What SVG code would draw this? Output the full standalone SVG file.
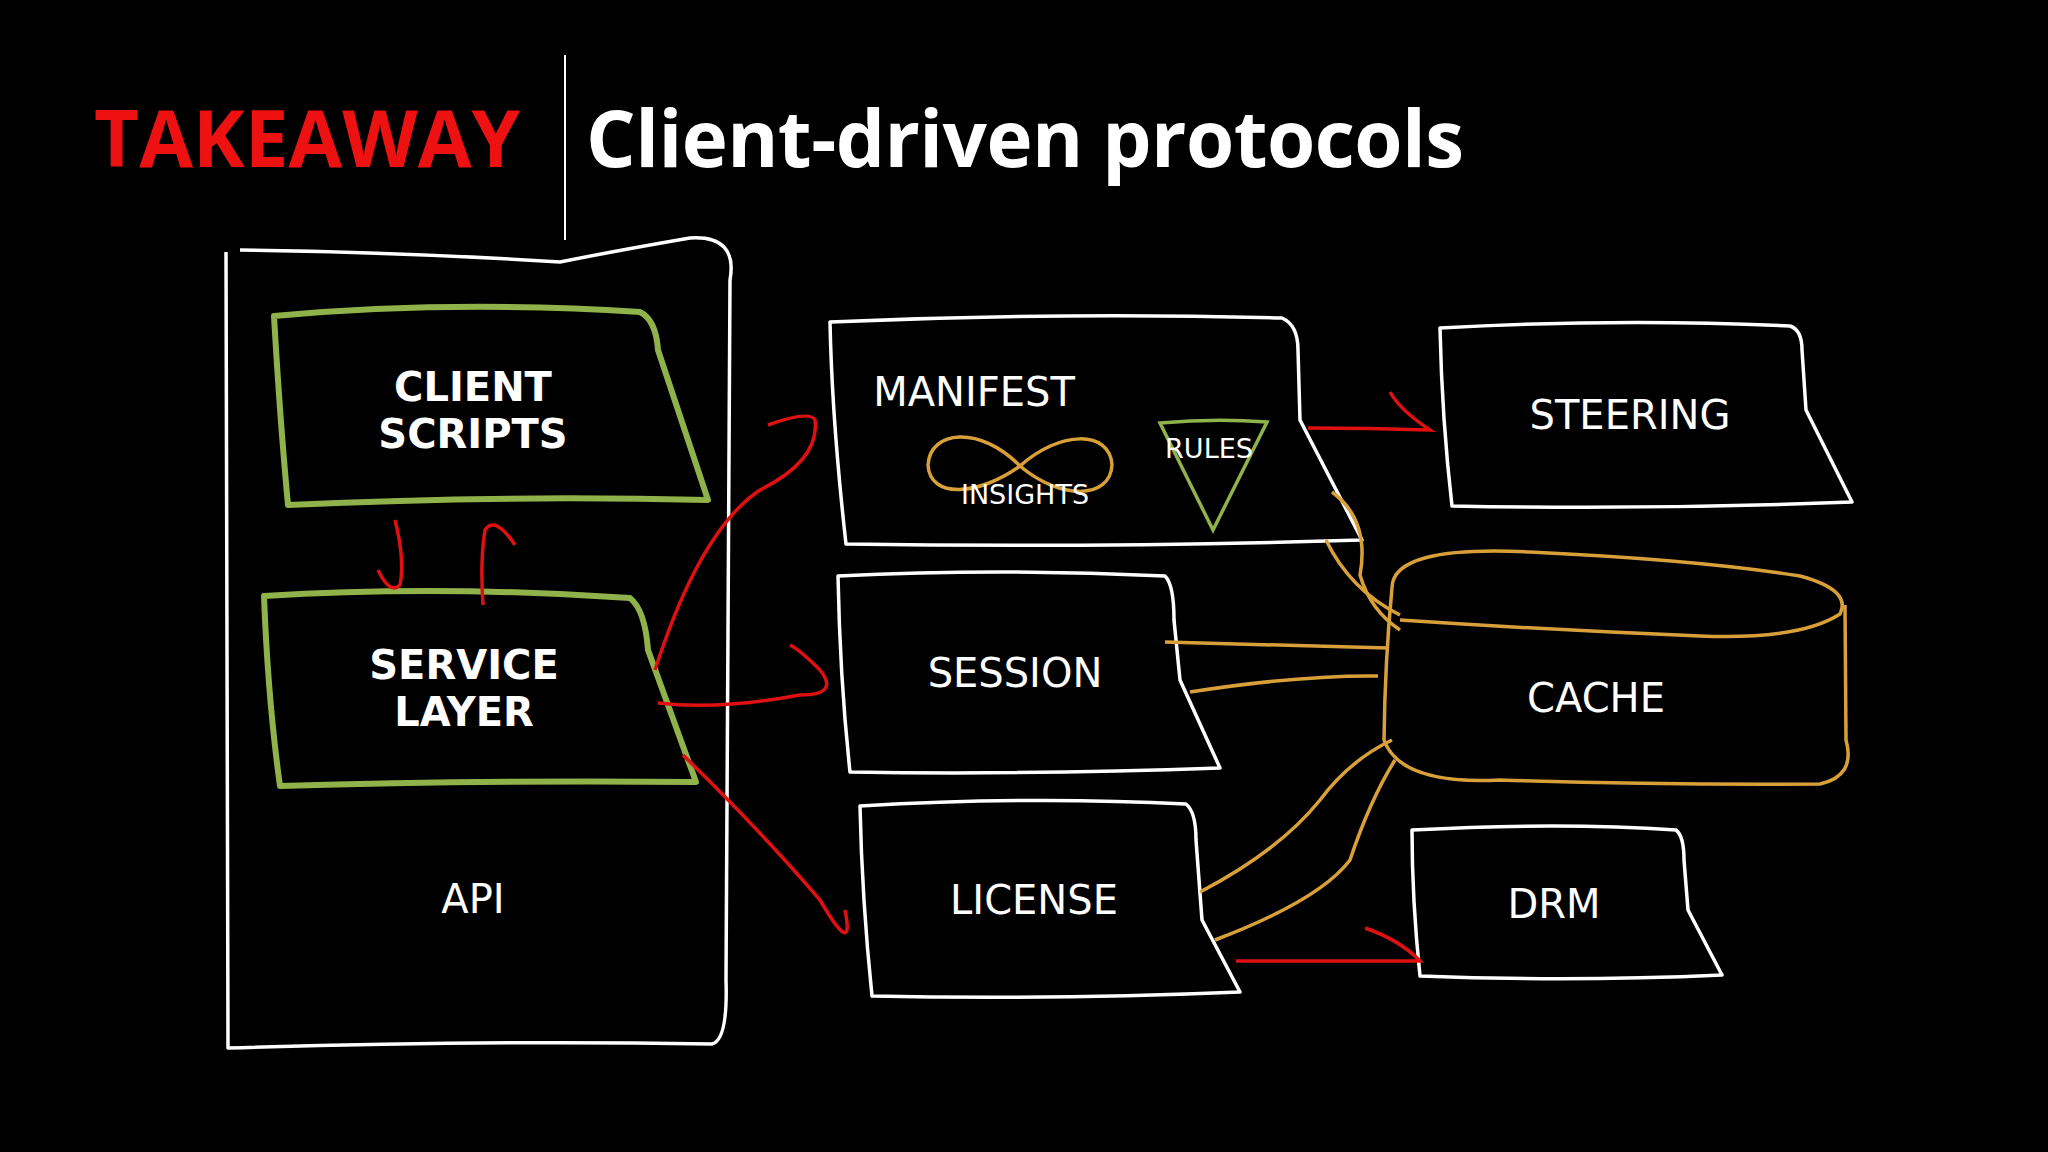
<svg xmlns="http://www.w3.org/2000/svg" width="2048" height="1152" viewBox="0 0 2048 1152">
<style>
.w{fill:none;stroke:#fff;stroke-width:3.5;stroke-linejoin:round}
.g{fill:none;stroke:#8fb24a;stroke-width:6;stroke-linejoin:round}
.o{fill:none;stroke:#d9a03a;stroke-width:3.5}
.r{fill:none;stroke:#e01010;stroke-width:3.5}
.t{fill:#fff;font-family:"DejaVu Sans",sans-serif;font-size:40px;text-anchor:middle}
.s{fill:#fff;font-family:"DejaVu Sans",sans-serif;font-size:27px;text-anchor:middle}
.tb{fill:#fff;font-family:"DejaVu Sans",sans-serif;font-size:40px;font-weight:bold;text-anchor:middle}
</style>
<rect width="2048" height="1152" fill="#000"/>
<text x="94" y="167" fill="#ee1111" font-family="'Open Sans',sans-serif" font-weight="bold" font-size="78">TAKEAWAY</text>
<line x1="565" y1="55" x2="565" y2="240" stroke="#fff" stroke-width="2"/>
<text x="586" y="167" fill="#fff" font-family="'Open Sans',sans-serif" font-weight="bold" font-size="78" textLength="878">Client-driven protocols</text>
<g id="api"><path class="w" d="M226 252 L228 1048 Q480 1040 712 1044 Q728 1040 726 980 L730 280 Q738 235 690 238 Q620 250 560 262 Q400 252 240 250"/><text class="t" x="473" y="913">API</text></g>
<g id="client"><path class="g" d="M274 316 Q450 300 640 312 Q656 320 658 350 L708 500 Q500 495 288 505 Q280 420 274 316Z"/><text class="tb" x="473" y="401">CLIENT</text><text class="tb" x="473" y="448">SCRIPTS</text></g>
<g id="service"><path class="g" d="M264 596 Q440 585 630 598 Q645 610 648 650 L696 782 Q480 780 280 786 Q268 700 264 596Z"/><text class="tb" x="464" y="679">SERVICE</text><text class="tb" x="464" y="726">LAYER</text></g>
<g id="manifest"><path class="w" d="M830 322 Q1060 312 1282 318 Q1298 325 1298 350 L1300 420 L1362 540 Q1100 548 846 544 Q832 420 830 322Z"/><text class="t" x="974" y="406">MANIFEST</text>
<path class="o" d="M1020 466 C980 425 930 430 928 465 C930 500 980 495 1020 466 C1060 430 1110 430 1112 465 C1110 500 1060 500 1020 466Z"/><text class="s" x="1025" y="504">INSIGHTS</text>
<path fill="none" stroke="#8fb24a" stroke-width="3.5" d="M1160 423 Q1215 418 1267 422 L1213 530 Z"/><text class="s" x="1209" y="458">RULES</text></g>
<g id="steering"><path class="w" d="M1440 328 Q1620 318 1790 326 Q1802 330 1802 350 L1806 410 L1852 502 Q1650 510 1452 506 Q1442 420 1440 328Z"/><text class="t" x="1630" y="429">STEERING</text></g>
<g id="session"><path class="w" d="M838 576 Q1000 568 1165 576 Q1174 585 1174 620 L1180 680 L1220 768 Q1020 775 850 772 Q840 680 838 576Z"/><text class="t" x="1015" y="687">SESSION</text></g>
<g id="cache"><path class="o" d="M1392 588 Q1392 545 1530 552 Q1700 560 1800 576 Q1852 590 1840 614 Q1800 640 1700 636 Q1550 630 1400 620"/><path class="o" d="M1392 588 Q1385 660 1384 740 Q1400 785 1500 780 Q1650 785 1820 784 Q1856 776 1846 740 L1845 605"/><text class="t" x="1596" y="712">CACHE</text></g>
<g id="license"><path class="w" d="M860 806 Q1030 796 1186 804 Q1196 812 1196 840 L1202 920 L1240 992 Q1050 1000 872 996 Q862 900 860 806Z"/><text class="t" x="1034" y="914">LICENSE</text></g>
<g id="drm"><path class="w" d="M1412 830 Q1560 822 1676 830 Q1684 836 1684 860 L1688 910 L1722 975 Q1570 982 1420 976 Q1412 900 1412 830Z"/><text class="t" x="1554" y="918">DRM</text></g>
<g id="connectors">
<path class="r" d="M395 520 Q405 560 400 585 Q390 595 378 570"/>
<path class="r" d="M483 605 Q480 560 485 530 Q495 515 515 545"/>
<path class="r" d="M655 670 Q700 530 760 490 Q820 460 815 420 Q810 410 768 425"/>
<path class="r" d="M658 703 Q720 710 800 695 Q840 695 820 670 Q800 650 790 645"/>
<path class="r" d="M683 755 Q760 830 820 900 Q855 960 845 910"/>
<path class="r" d="M1308 428 Q1370 428 1430 430 Q1400 410 1390 392"/>
<path class="r" d="M1236 961 L1420 961 Q1400 940 1365 928"/>
<path class="o" d="M1332 492 Q1370 520 1360 575 Q1370 610 1400 630"/>
<path class="o" d="M1326 540 Q1350 590 1400 615"/>
<path class="o" d="M1165 642 L1388 648"/>
<path class="o" d="M1190 692 Q1300 675 1378 676"/>
<path class="o" d="M1200 892 Q1280 850 1320 800 Q1350 760 1392 740"/>
<path class="o" d="M1215 940 Q1320 900 1350 860 Q1370 800 1395 760"/>
</g>
</svg>
